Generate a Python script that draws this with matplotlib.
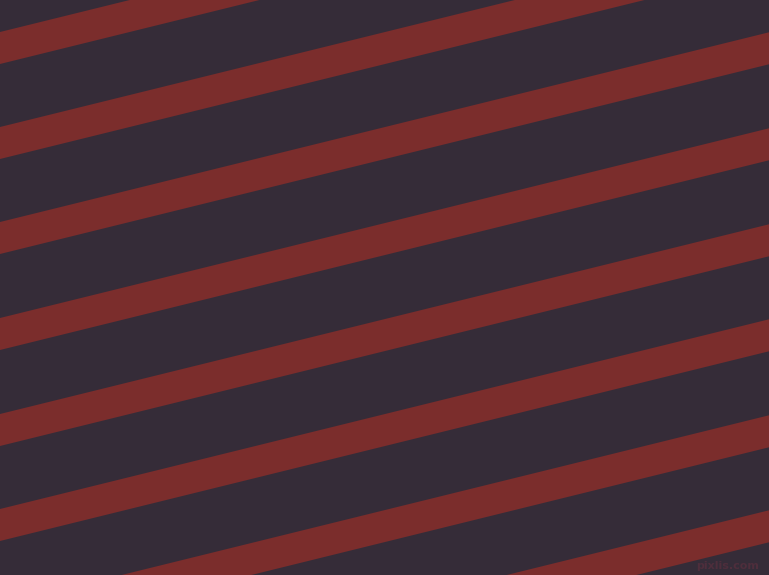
import numpy as np
import matplotlib
matplotlib.use('Agg')
import matplotlib.pyplot as plt

# stripe top edges where they meet the left border (pixels from top)
stripe_top = [32, 127, 222, 318, 414, 509, 605, 700]
stripe_height = 32
rise = 0.2467  # pixels up per pixel to the right

bg_color = '#352c38'
stripe_color = '#7b2d2c'

fig = plt.figure(figsize=(7.69, 5.75), dpi=100)
ax = fig.add_axes([0, 0, 1, 1])
ax.set_facecolor(bg_color)
fig.patch.set_facecolor(bg_color)

x = np.array([0, 769])
for top in stripe_top:
    ax.fill_between(x, top - rise * x, top + stripe_height - rise * x,
                    color=stripe_color, linewidth=0)

ax.text(759, 566, 'pixlis.com', color='#4e2e3c', fontsize=8,
        ha='right', va='center', fontweight='bold')

ax.set_xlim(0, 769)
ax.set_ylim(575, 0)
ax.axis('off')
fig.savefig('out.png', dpi=100, facecolor=bg_color)
